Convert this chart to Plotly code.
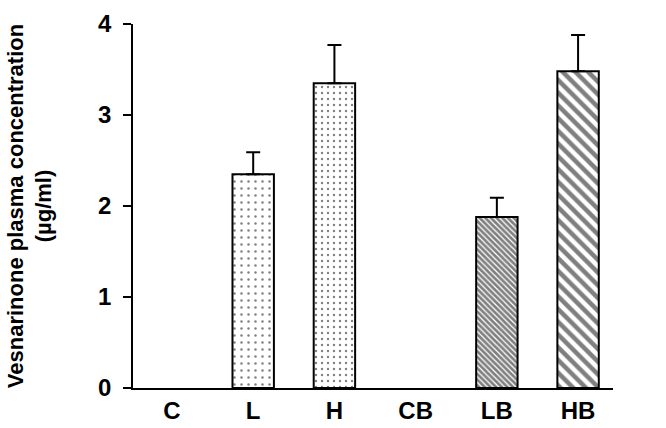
import plotly.graph_objects as go

categories = ["C", "L", "H", "CB", "LB", "HB"]
means = [None, 2.35, 3.35, None, 1.88, 3.48]
sem_up = [None, 0.24, 0.42, None, 0.21, 0.40]
y_ticks = [0, 1, 2, 3, 4]

shapes = ["", ".", ".", "", "\\", "\\"]
psize = [7, 7, 6, 7, 4, 9]
psolid = [0.1, 0.1, 0.12, 0.1, 0.68, 0.5]

fig = go.Figure()
fig.add_trace(go.Bar(
    x=categories, y=means,
    width=0.51,
    marker=dict(
        color="white",
        line=dict(color="black", width=2),
        pattern=dict(shape=shapes, size=psize, solidity=psolid,
                     fgcolor="black", bgcolor="white", fillmode="overlay"),
    ),
    error_y=dict(type="data", symmetric=False, array=sem_up,
                 arrayminus=[0 if v is not None else None for v in sem_up],
                 color="black", thickness=2, width=7),
    showlegend=False,
))

font = dict(family="Liberation Sans, Arial, sans-serif", color="black")
fig.update_layout(
    width=666, height=428,
    margin=dict(l=133, r=53, t=24, b=40),
    plot_bgcolor="white", paper_bgcolor="white",
    xaxis=dict(
        type="category", range=[-0.48, 5.43], automargin=False,
        showline=True, linecolor="black", linewidth=2,
        ticks="", showgrid=False, zeroline=False,
        tickfont=dict(size=24, weight="bold", **font),
    ),
    yaxis=dict(
        range=[0, 4], tickvals=y_ticks, automargin=False,
        showline=True, linecolor="black", linewidth=1.5,
        ticks="outside", ticklen=8, tickwidth=1.5, tickcolor="black",
        ticklabelstandoff=7,
        showgrid=False, zeroline=False,
        tickfont=dict(size=24, weight="bold", **font),
        title=dict(text="Vesnarinone plasma concentration<br>(µg/ml)",
                   font=dict(size=22, weight="bold", **font), standoff=40),
    ),
)

fig.write_html("out.html", config={"displayModeBar": False},
               post_script="document.body.style.margin='0';")
